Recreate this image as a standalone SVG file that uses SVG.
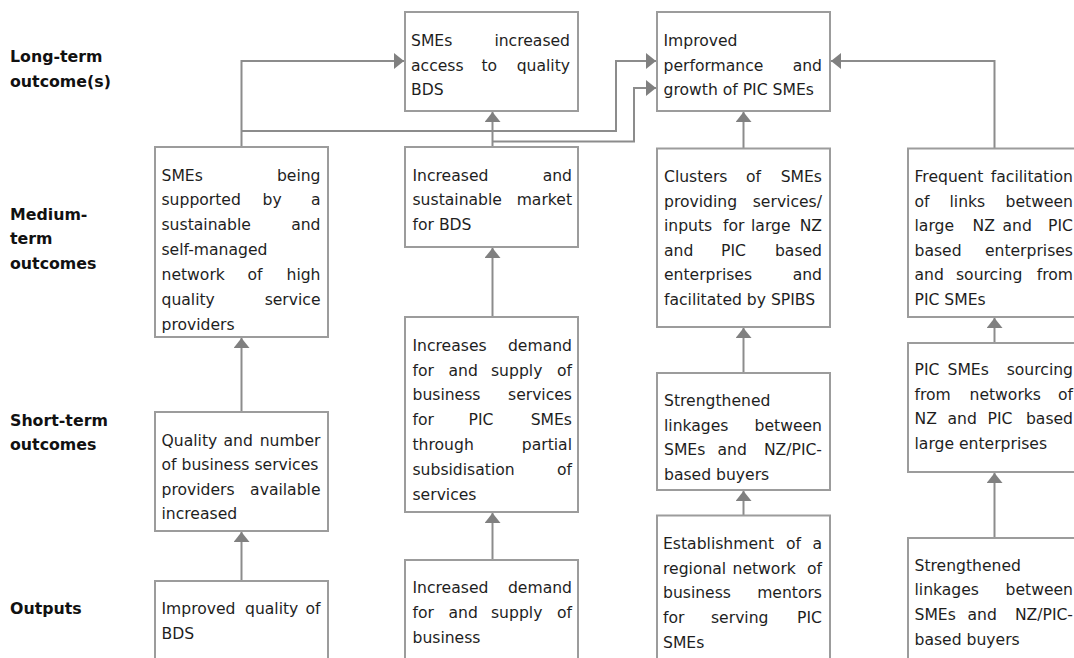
<svg xmlns="http://www.w3.org/2000/svg" width="1074" height="658" viewBox="0 0 1074 658">
<defs>
<style>
.box{fill:#fff;stroke:#9c9c9c;stroke-width:2}
.t{font-family:"DejaVu Sans",Verdana,sans-serif;font-size:15.6px;fill:#1e1e1e}
.e{text-anchor:end}
.lbl{font-family:"DejaVu Sans",Verdana,sans-serif;font-size:15.8px;font-weight:bold;fill:#111}
.con{fill:none;stroke:#8c8c8c;stroke-width:2;marker-end:url(#ah)}
</style>
<marker id="ah" viewBox="0 0 10 16" refX="10" refY="8" markerWidth="10" markerHeight="16" markerUnits="userSpaceOnUse" orient="auto">
<path d="M0,0 L10,8 L0,16 z" fill="#808080"/>
</marker>
</defs>
<rect width="1074" height="658" fill="#fff"/>

<g id="labels">
<text class="lbl" x="10" y="61.7">Long-term</text>
<text class="lbl" x="10" y="86.5">outcome(s)</text>
<text class="lbl" x="10" y="219.5">Medium-</text>
<text class="lbl" x="10" y="244">term</text>
<text class="lbl" x="10" y="268.5">outcomes</text>
<text class="lbl" x="10" y="425.7">Short-term</text>
<text class="lbl" x="10" y="450.3">outcomes</text>
<text class="lbl" x="10" y="613.5">Outputs</text>
</g>

<g id="connectors">
<path class="con" d="M241.5,147 V61 H404"/>
<path class="con" d="M241.5,131 H616 V61 H656"/>
<path class="con" d="M492.5,141.5 H634 V88 H656"/>
<path class="con" d="M492.5,147 V112"/>
<path class="con" d="M743.5,148.5 V112"/>
<path class="con" d="M994.5,148.5 V61 H831"/>
<path class="con" d="M241.5,412 V338"/>
<path class="con" d="M241.5,581 V532"/>
<path class="con" d="M492.5,317 V248"/>
<path class="con" d="M492.5,560 V513"/>
<path class="con" d="M743.5,373 V328"/>
<path class="con" d="M743.5,515.5 V491"/>
<path class="con" d="M994.5,343 V318"/>
<path class="con" d="M994.5,538 V473"/>
</g>

<g id="lt1">
<rect class="box" x="405" y="12" width="173" height="99"/>
<text class="t" x="411" y="46">SMEs</text><text class="t e" x="570" y="46">increased</text>
<text class="t" x="411" y="70.5">access</text><text class="t" x="481.5" y="70.5">to</text><text class="t e" x="570" y="70.5">quality</text>
<text class="t" x="411" y="95">BDS</text>
</g>

<g id="lt2">
<rect class="box" x="657" y="12" width="173" height="99"/>
<text class="t" x="663.5" y="46">Improved</text>
<text class="t" x="663.5" y="70.5">performance</text><text class="t e" x="822" y="70.5">and</text>
<text class="t" x="663.5" y="95">growth of PIC SMEs</text>
</g>

<g id="mt1">
<rect class="box" x="155" y="147" width="173" height="190"/>
<text class="t" x="161.5" y="180.5">SMEs</text><text class="t e" x="320.5" y="180.5">being</text>
<text class="t" x="161.5" y="205.4">supported</text><text class="t" x="262.5" y="205.4">by</text><text class="t e" x="320.5" y="205.4">a</text>
<text class="t" x="161.5" y="230.3">sustainable</text><text class="t e" x="320.5" y="230.3">and</text>
<text class="t" x="161.5" y="255.2">self-managed</text>
<text class="t" x="161.5" y="280.1">network</text><text class="t" x="247.5" y="280.1">of</text><text class="t e" x="320.5" y="280.1">high</text>
<text class="t" x="161.5" y="305">quality</text><text class="t e" x="320.5" y="305">service</text>
<text class="t" x="161.5" y="329.9">providers</text>
</g>

<g id="mt2">
<rect class="box" x="405" y="147" width="173" height="100"/>
<text class="t" x="412.5" y="180.5">Increased</text><text class="t e" x="572" y="180.5">and</text>
<text class="t" x="412.5" y="205.4">sustainable</text><text class="t e" x="572" y="205.4">market</text>
<text class="t" x="412.5" y="230.3">for BDS</text>
</g>

<g id="mt3">
<rect class="box" x="657" y="148.5" width="173" height="178.5"/>
<text class="t" x="664" y="182">Clusters</text><text class="t" x="746" y="182">of</text><text class="t e" x="822" y="182">SMEs</text>
<text class="t" x="664" y="206.5">providing</text><text class="t e" x="822" y="206.5">services/</text>
<text class="t" x="664" y="231">inputs</text><text class="t" x="723" y="231">for</text><text class="t" x="751" y="231">large</text><text class="t e" x="822" y="231">NZ</text>
<text class="t" x="664" y="255.5">and</text><text class="t" x="721" y="255.5">PIC</text><text class="t e" x="822" y="255.5">based</text>
<text class="t" x="664" y="280">enterprises</text><text class="t e" x="822" y="280">and</text>
<text class="t" x="664" y="304.5">facilitated by SPIBS</text>
</g>

<g id="mt4">
<rect class="box" x="908" y="148.5" width="180" height="168.5"/>
<text class="t" x="914.5" y="182">Frequent</text><text class="t e" x="1073" y="182">facilitation</text>
<text class="t" x="914.5" y="206.5">of</text><text class="t" x="949.5" y="206.5">links</text><text class="t e" x="1073" y="206.5">between</text>
<text class="t" x="914.5" y="231">large</text><text class="t" x="972.5" y="231">NZ</text><text class="t" x="1002.5" y="231">and</text><text class="t e" x="1073" y="231">PIC</text>
<text class="t" x="914.5" y="255.5">based</text><text class="t e" x="1073" y="255.5">enterprises</text>
<text class="t" x="914.5" y="280">and</text><text class="t" x="956" y="280">sourcing</text><text class="t e" x="1073" y="280">from</text>
<text class="t" x="914.5" y="304.5">PIC SMEs</text>
</g>

<g id="st1">
<rect class="box" x="155" y="412" width="173" height="119"/>
<text class="t" x="161.5" y="445.5">Quality</text><text class="t" x="223.5" y="445.5">and</text><text class="t e" x="320.5" y="445.5">number</text>
<text class="t" x="161.5" y="470">of business services</text>
<text class="t" x="161.5" y="494.5">providers</text><text class="t e" x="320.5" y="494.5">available</text>
<text class="t" x="161.5" y="519">increased</text>
</g>

<g id="st2">
<rect class="box" x="405" y="317" width="173" height="195"/>
<text class="t" x="412.5" y="350.7">Increases</text><text class="t e" x="572" y="350.7">demand</text>
<text class="t" x="412.5" y="375.5">for</text><text class="t" x="448.5" y="375.5">and</text><text class="t" x="491" y="375.5">supply</text><text class="t e" x="572" y="375.5">of</text>
<text class="t" x="412.5" y="400.3">business</text><text class="t e" x="572" y="400.3">services</text>
<text class="t" x="412.5" y="425.1">for</text><text class="t" x="468.5" y="425.1">PIC</text><text class="t e" x="572" y="425.1">SMEs</text>
<text class="t" x="412.5" y="449.9">through</text><text class="t e" x="572" y="449.9">partial</text>
<text class="t" x="412.5" y="474.7">subsidisation</text><text class="t e" x="572" y="474.7">of</text>
<text class="t" x="412.5" y="499.5">services</text>
</g>

<g id="st3">
<rect class="box" x="657" y="373" width="173" height="117"/>
<text class="t" x="664" y="406">Strengthened</text>
<text class="t" x="664" y="430.7">linkages</text><text class="t e" x="822" y="430.7">between</text>
<text class="t" x="664" y="455.4">SMEs</text><text class="t" x="717.5" y="455.4">and</text><text class="t e" x="822" y="455.4">NZ/PIC-</text>
<text class="t" x="664" y="480">based buyers</text>
</g>

<g id="st4">
<rect class="box" x="908" y="343" width="180" height="129"/>
<text class="t" x="914.5" y="375">PIC</text><text class="t" x="947.5" y="375">SMEs</text><text class="t e" x="1073" y="375">sourcing</text>
<text class="t" x="914.5" y="399.7">from</text><text class="t" x="969.5" y="399.7">networks</text><text class="t e" x="1073" y="399.7">of</text>
<text class="t" x="914.5" y="424.4">NZ</text><text class="t" x="947.5" y="424.4">and</text><text class="t" x="987.5" y="424.4">PIC</text><text class="t e" x="1073" y="424.4">based</text>
<text class="t" x="914.5" y="449">large enterprises</text>
</g>

<g id="op1">
<rect class="box" x="155" y="581" width="173" height="90"/>
<text class="t" x="161.5" y="614">Improved</text><text class="t" x="245" y="614">quality</text><text class="t e" x="320.5" y="614">of</text>
<text class="t" x="161.5" y="638.7">BDS</text>
</g>

<g id="op2">
<rect class="box" x="405" y="560" width="173" height="110"/>
<text class="t" x="412.5" y="593.3">Increased</text><text class="t e" x="572" y="593.3">demand</text>
<text class="t" x="412.5" y="618">for</text><text class="t" x="448.5" y="618">and</text><text class="t" x="491" y="618">supply</text><text class="t e" x="572" y="618">of</text>
<text class="t" x="412.5" y="642.7">business</text>
</g>

<g id="op3">
<rect class="box" x="657" y="515.5" width="173" height="155"/>
<text class="t" x="663" y="549">Establishment</text><text class="t" x="786" y="549">of</text><text class="t e" x="822" y="549">a</text>
<text class="t" x="663" y="573.7">regional</text><text class="t" x="732.5" y="573.7">network</text><text class="t e" x="822" y="573.7">of</text>
<text class="t" x="663" y="598.4">business</text><text class="t e" x="822" y="598.4">mentors</text>
<text class="t" x="663" y="623.1">for</text><text class="t" x="711" y="623.1">serving</text><text class="t e" x="822" y="623.1">PIC</text>
<text class="t" x="663" y="647.8">SMEs</text>
</g>

<g id="op4">
<rect class="box" x="908" y="538" width="180" height="130"/>
<text class="t" x="914.5" y="570.7">Strengthened</text>
<text class="t" x="914.5" y="595.4">linkages</text><text class="t e" x="1073" y="595.4">between</text>
<text class="t" x="914.5" y="620">SMEs</text><text class="t" x="967.5" y="620">and</text><text class="t e" x="1073" y="620">NZ/PIC-</text>
<text class="t" x="914.5" y="644.7">based buyers</text>
</g>
</svg>
